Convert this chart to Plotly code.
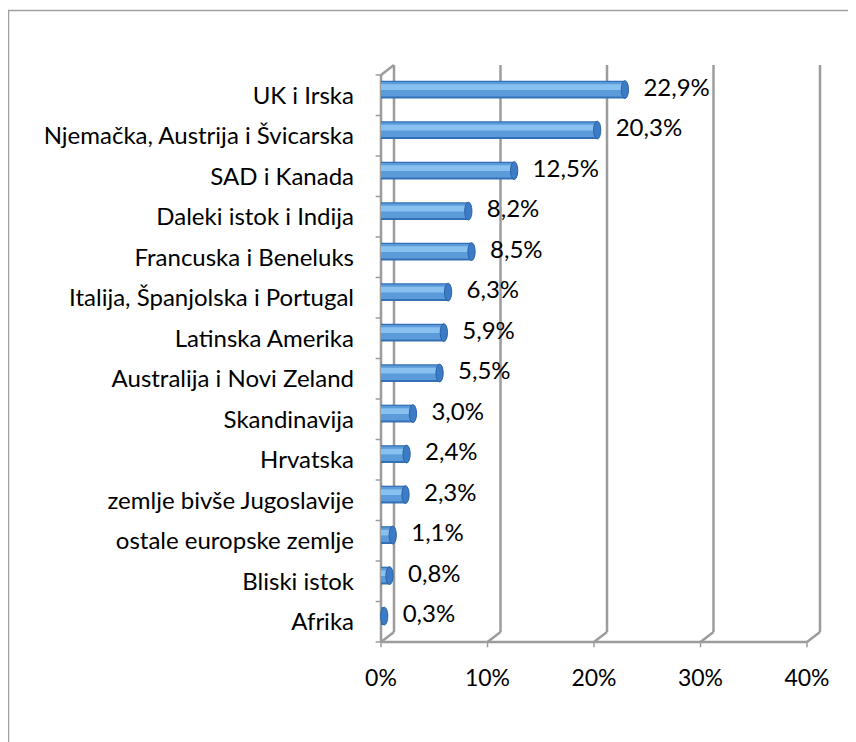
import plotly.graph_objects as go

categories = ["UK i Irska", "Njemačka, Austrija i Švicarska", "SAD i Kanada",
              "Daleki istok i Indija", "Francuska i Beneluks",
              "Italija, Španjolska i Portugal", "Latinska Amerika",
              "Australija i Novi Zeland", "Skandinavija", "Hrvatska",
              "zemlje bivše Jugoslavije", "ostale europske zemlje",
              "Bliski istok", "Afrika"]
shares = [22.9, 20.3, 12.5, 8.2, 8.5, 6.3, 5.9, 5.5, 3.0, 2.4, 2.3, 1.1, 0.8, 0.3]
x_ticks = [0, 10, 20, 30, 40]
x_ticktext = ["0%", "10%", "20%", "30%", "40%"]

labels = [f"{v:.1f}%".replace(".", ",") for v in shares]
pos = list(range(len(categories)))

# page body has an 8px margin, so work in window pixels and shift
OFF = 8
W, H = 856 - OFF, 742 - OFF
L, R, T, B = 375, 825, 62, 648          # plot box in window pixels
x_rng = [(L - 381) / 10.65, (R - 381) / 10.65]
y_rng = [13.5 + (B - 642) / 40.5, -0.5 + (T - 75) / 40.5]
dx = 13 / 10.65          # depth offset, x
dy = -10 / 40.5          # depth offset, y
n = len(categories)
back_top = -0.5 + dy
back_floor = n - 0.5 + dy
floor = n - 0.5
shift = -0.14            # bars sit mid-depth

grid = dict(color="#9c9c9c", width=2.5)
fnt = "Lato"

fig = go.Figure()

# cylinder look: dark rim, body, highlight
for w, col, extra in [(0.44, "#3470b6", 0), (0.36, "#5b9bd9", -0.01), (0.14, "#88c0f0", -0.06)]:
    fig.add_trace(go.Bar(
        x=shares, y=pos, orientation="h", width=w,
        offset=shift - w / 2 + extra, marker=dict(color=col, line=dict(width=0)),
        hoverinfo="skip", showlegend=False))

fig.add_trace(go.Scatter(
    x=shares, y=[p + shift for p in pos], mode="markers+text",
    text=labels, textposition="middle right",
    marker=dict(size=28, opacity=0),
    textfont=dict(size=24, color="#000000", family=fnt),
    hoverinfo="skip", showlegend=False, cliponaxis=False))

shapes = []
# end caps
for p, v in zip(pos, shares):
    c = p + shift
    shapes.append(dict(type="circle", xref="x", yref="y", x0=v - 0.34, x1=v + 0.34,
                       y0=c - 0.22, y1=c + 0.22, fillcolor="#3c7cc7",
                       line=dict(color="#2b62a6", width=1), layer="above"))

for v in x_ticks:
    shapes.append(dict(type="line", xref="x", yref="y", x0=v + dx, x1=v + dx,
                       y0=back_top, y1=back_floor, line=grid, layer="below"))
    shapes.append(dict(type="line", xref="x", yref="y", x0=v, x1=v + dx,
                       y0=floor, y1=back_floor, line=grid, layer="below"))
    shapes.append(dict(type="line", xref="x", yref="y", x0=v, x1=v,
                       y0=floor, y1=floor + 0.13, line=dict(color="#9c9c9c", width=1.5)))

shapes.append(dict(type="line", xref="x", yref="y", x0=0, x1=x_ticks[-1],
                   y0=floor, y1=floor, line=grid, layer="below"))
shapes.append(dict(type="line", xref="x", yref="y", x0=0, x1=0,
                   y0=-0.5, y1=floor, line=grid, layer="below"))
shapes.append(dict(type="line", xref="x", yref="y", x0=0, x1=dx,
                   y0=-0.5, y1=back_top, line=grid, layer="below"))
for k in range(n + 1):
    shapes.append(dict(type="line", xref="x", yref="y", x0=-0.5, x1=0,
                       y0=k - 0.5, y1=k - 0.5, line=dict(color="#9c9c9c", width=1.5)))


# chart border (left and top edges visible)
def px(xp):
    return (xp - L) / (R - L)


def py(yp):
    return (B - yp) / (B - T)


shapes.append(dict(type="line", xref="paper", yref="paper", x0=px(8.5), x1=px(8.5),
                   y0=py(10), y1=py(760), line=dict(color="#a0a0a0", width=1.5)))
shapes.append(dict(type="line", xref="paper", yref="paper", x0=px(8), x1=px(870),
                   y0=py(10.5), y1=py(10.5), line=dict(color="#a0a0a0", width=1.5)))

fig.update_layout(
    width=W, height=H, barmode="overlay",
    margin=dict(l=L - OFF, r=W + OFF - R, t=T - OFF, b=H + OFF - B, pad=0),
    paper_bgcolor="white", plot_bgcolor="white",
    font=dict(family=fnt, size=24, color="#000000"),
    shapes=shapes,
    xaxis=dict(range=x_rng, tickvals=x_ticks, ticktext=x_ticktext, showgrid=False,
               zeroline=False, showline=False, ticks="", ticklabelstandoff=14,
               tickfont=dict(size=23)),
    yaxis=dict(range=y_rng, tickvals=pos, ticktext=categories,
               showgrid=False, zeroline=False, showline=False,
               ticks="", ticklabelstandoff=20, tickfont=dict(size=24)),
)

fig.write_html("out.html")
